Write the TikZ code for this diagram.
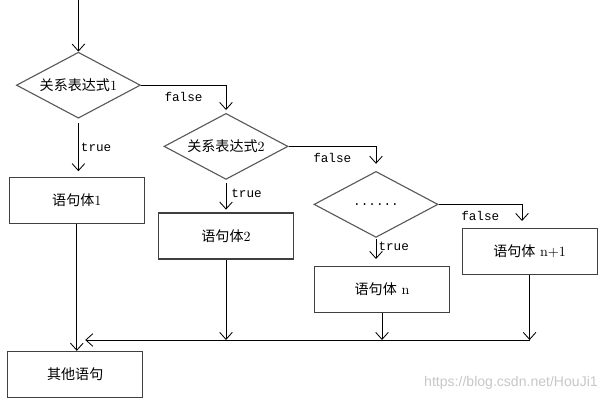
\documentclass[tikz,border=0pt]{standalone}
\usepackage{fontspec}
\setmonofont{Liberation Mono}
\newfontfamily\cjk{Noto Sans CJK SC}
\newfontfamily\wmk{Liberation Sans}
\usetikzlibrary{arrows.meta, shapes.geometric}
\tikzset{%
    lin/.style={line width = 0.6pt},
    lina/.style={line width = 0.6pt, -{Straight Barb[length=5pt,width=9pt]}},
    blk/.style={rectangle, draw=black!75, line width=0.8pt, minimum width=3.375cm, minimum height=1.15cm},
    dia/.style={diamond, draw=black!65, line width=0.8pt, aspect=1.9, inner sep=0pt, minimum width=3.1cm, minimum height=1.65cm},
    lab/.style={font=\ttfamily\small, inner sep=1.5pt},
}
\begin{document}
\begin{tikzpicture}
    \useasboundingbox (0,0) rectangle (15.05,-10.2);
    \node[dia] (d1) at (1.96,-2.13) {{\cjk 关系表达式}1};
    \node[dia] (d2) at (5.65,-3.66) {{\cjk 关系表达式}2};
    \node[dia] (d3) at (9.40,-5.11) {\ttfamily\small ......};
    \node[blk] (b1) at (1.92,-5.01) {{\cjk 语句体}1};
    \node[blk] (b2) at (5.65,-5.90) {{\cjk 语句体}2};
    \node[blk] (bn) at (9.55,-7.24) {{\cjk 语句体} n};
    \node[blk] (bn1) at (13.24,-6.29) {{\cjk 语句体} n+1};
    \node[blk] (bo) at (1.88,-9.36) {\cjk 其他语句};
    \coordinate (in) at (1.96,0);
    \coordinate (mr) at (13.25,-8.5);
    \coordinate (ml) at (2.13,-8.5);
    \draw [lina] (in) -- (d1.north);
    \draw [lina,shorten <=3pt,shorten >=4pt] (d1.south) -- (d1.south |- b1.north) node[lab,midway,right]{true};
    \draw [lina,shorten >=2pt] (d1.east) -| (d2.north) node[lab,pos=0.25,below=3pt]{false};
    \draw [lina,shorten <=2pt,shorten >=2pt] (d2.south) -- (d2.south |- b2.north) node[lab,pos=0.4,right=2pt]{true};
    \draw [lina,shorten >=5pt] (d2.east) -| (d3.north) node[lab,pos=0.25,below=3pt]{false};
    \draw [lina,shorten <=1pt,shorten >=5pt] (d3.south) -- (d3.south |- bn.north) node[lab,pos=0.3,right=0pt]{true};
    \draw [lina,shorten >=5pt] (d3.east) -| ([xshift=-0.19cm]bn1.north) node[lab,pos=0.25,below=3pt]{false};
    \draw [lina] (b1.south) -- (b1.south |- bo.north);
    \draw [lina] (b2.south) -- (b2.south |- mr);
    \draw [lina] (bn.south) -- (bn.south |- mr);
    \draw [lina] (bn1.south) -- (bn1.south |- mr);
    \draw [lina] (mr) -- (ml);
    \node[font=\wmk, text=black!22, anchor=east, inner sep=0pt] (wm) at (14.95,-9.58) {https://blog.csdn.net/HouJi1};
\end{tikzpicture}
\end{document}
